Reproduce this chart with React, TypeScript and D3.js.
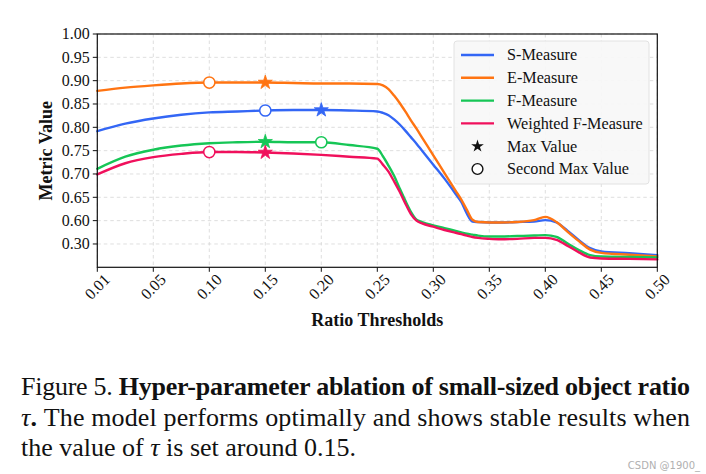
import React from "react";
import * as d3 from "d3";

// ---------- data ----------
const xTickValues = [0.01, 0.05, 0.1, 0.15, 0.2, 0.25, 0.3, 0.35, 0.4, 0.45, 0.5];
const xTickLabels = ["0.01", "0.05", "0.10", "0.15", "0.20", "0.25", "0.30", "0.35", "0.40", "0.45", "0.50"];
const yTickValues = [1.0, 0.95, 0.9, 0.85, 0.8, 0.75, 0.7, 0.65, 0.6, 0.55];
const yTickLabels = ["1.00", "0.95", "0.90", "0.85", "0.80", "0.75", "0.70", "0.65", "0.60", "0.30"];

const ratios = [0.01, 0.03, 0.05, 0.075, 0.1, 0.125, 0.15, 0.175, 0.2, 0.225, 0.25, 0.255, 0.26, 0.265, 0.27, 0.275, 0.28, 0.285, 0.29, 0.3, 0.31, 0.32, 0.325, 0.33, 0.335, 0.34, 0.35, 0.36, 0.375, 0.39, 0.4, 0.41, 0.42, 0.43, 0.44, 0.45, 0.475, 0.5];

const sMeasure = [0.792, 0.808, 0.819, 0.827, 0.832, 0.834, 0.836, 0.837, 0.837, 0.836, 0.834, 0.831, 0.826, 0.817, 0.806, 0.793, 0.779, 0.765, 0.75, 0.72, 0.69, 0.657, 0.64, 0.615, 0.598, 0.597, 0.596, 0.596, 0.597, 0.598, 0.601, 0.596, 0.578, 0.558, 0.541, 0.534, 0.53, 0.526];
const eMeasure = [0.878, 0.885, 0.89, 0.894, 0.896, 0.896, 0.896, 0.895, 0.894, 0.894, 0.893, 0.89, 0.882, 0.868, 0.852, 0.834, 0.815, 0.797, 0.778, 0.74, 0.702, 0.664, 0.645, 0.623, 0.602, 0.597, 0.596, 0.596, 0.597, 0.601, 0.608, 0.597, 0.576, 0.556, 0.538, 0.531, 0.527, 0.5235];
const fMeasure = [0.711, 0.737, 0.752, 0.761, 0.766, 0.768, 0.769, 0.768, 0.768, 0.762, 0.754, 0.738, 0.718, 0.696, 0.669, 0.643, 0.619, 0.602, 0.597, 0.59, 0.584, 0.578, 0.575, 0.572, 0.57, 0.568, 0.566, 0.566, 0.567, 0.568, 0.569, 0.565, 0.551, 0.537, 0.526, 0.523, 0.522, 0.521];
const wfMeasure = [0.699, 0.723, 0.736, 0.743, 0.747, 0.747, 0.746, 0.744, 0.741, 0.737, 0.733, 0.72, 0.705, 0.684, 0.662, 0.637, 0.614, 0.6, 0.594, 0.587, 0.58, 0.574, 0.571, 0.568, 0.565, 0.563, 0.561, 0.56, 0.561, 0.563, 0.563, 0.559, 0.546, 0.532, 0.521, 0.519, 0.518, 0.517];

const seriesNames = ["S-Measure", "E-Measure", "F-Measure", "Weighted F-Measure"];
const seriesValues = [sMeasure, eMeasure, fMeasure, wfMeasure];
const seriesColors = ["#3366f5", "#ff7412", "#16c656", "#f0105c"];
const maxAt = [0.2, 0.15, 0.15, 0.15];
const secondMaxAt = [0.15, 0.1, 0.2, 0.1];

// ---------- layout ----------
const W = 706, H = 474;
const L = 97.3, R = 657.3, T = 34, B = 267.3;
const serif = "'Liberation Serif', 'Times New Roman', serif";

export default function App() {
  const x = d3.scaleLinear()
    .domain(xTickValues)
    .range(xTickValues.map((_, i) => L + (i * (R - L)) / (xTickValues.length - 1)));
  const y = d3.scaleLinear().domain([0.5, 1.0]).range([B, T]);

  const line = d3.line<number>()
    .x((_, i) => x(ratios[i]))
    .y((d) => y(d))
    .curve(d3.curveMonotoneX);

  const star = d3.symbol().type(d3.symbolStar).size(62)();
  const starLegend = d3.symbol().type(d3.symbolStar).size(50)();

  const valueAt = (vals: number[], r: number) => vals[ratios.findIndex((v) => Math.abs(v - r) < 1e-9)];

  const legendX = 454, legendY = 41, rowH = 22.8, firstRow = 55;

  return (
    <svg width={W} height={H} style={{ position: "absolute", left: 0, top: 0, background: "#fff" }}>
      <rect x={0} y={0} width={W} height={H} fill="#fff" />
      {/* grid */}
      <g stroke="#d6d6d6" strokeWidth={0.8} strokeDasharray="3.5,3">
        {xTickValues.map((v) => (
          <line key={"gx" + v} x1={x(v)} x2={x(v)} y1={T} y2={B} />
        ))}
        {yTickValues.map((v) => (
          <line key={"gy" + v} x1={L} x2={R} y1={y(v)} y2={y(v)} />
        ))}
      </g>

      {/* lines */}
      <g fill="none" strokeWidth={2.4} strokeLinejoin="round" strokeLinecap="round">
        {seriesValues.map((vals, i) => (
          <path key={"l" + i} d={line(vals) || ""} stroke={seriesColors[i]} />
        ))}
      </g>

      {/* markers */}
      {seriesValues.map((vals, i) => (
        <g key={"m" + i}>
          <circle cx={x(secondMaxAt[i])} cy={y(valueAt(vals, secondMaxAt[i]))} r={5.6} fill="#fff" stroke={seriesColors[i]} strokeWidth={1.5} />
          <path d={star} transform={`translate(${x(maxAt[i])},${y(valueAt(vals, maxAt[i]))})`} fill={seriesColors[i]} stroke={seriesColors[i]} strokeWidth={0.8} />
        </g>
      ))}

      {/* frame */}
      <rect x={L} y={T} width={R - L} height={B - T} fill="none" stroke="#111" strokeWidth={1.2} />

      {/* y axis ticks */}
      <g fontFamily={serif} fontSize={16} fill="#111">
        {yTickValues.map((v, i) => (
          <g key={"yt" + v}>
            <line x1={L - 4.5} x2={L} y1={y(v)} y2={y(v)} stroke="#111" strokeWidth={1} />
            <text x={L - 7.5} y={y(v)} dy="0.33em" textAnchor="end">{yTickLabels[i]}</text>
          </g>
        ))}
      </g>

      {/* x axis ticks */}
      <g fontFamily={serif} fontSize={16} fill="#111">
        {xTickValues.map((v, i) => (
          <g key={"xt" + v}>
            <line x1={x(v)} x2={x(v)} y1={B} y2={B + 4.5} stroke="#111" strokeWidth={1} />
            <text transform={`translate(${x(v)},${B + 19.5}) rotate(-45)`} textAnchor="middle" dy="0.33em">{xTickLabels[i]}</text>
          </g>
        ))}
      </g>

      {/* axis titles */}
      <text x={(L + R) / 2} y={326} textAnchor="middle" fontFamily={serif} fontSize={18} fontWeight="bold" fill="#111">Ratio Thresholds</text>
      <text transform={`translate(52,${(T + B) / 2}) rotate(-90)`} textAnchor="middle" fontFamily={serif} fontSize={18} fontWeight="bold" fill="#111">Metric Value</text>

      {/* legend */}
      <rect x={legendX} y={legendY} width={195} height={143} rx={3} fill="#f7f7f7" fillOpacity={0.92} stroke="#e2e2e2" strokeWidth={1} />
      <g fontFamily={serif} fontSize={16.2} fill="#111">
        {seriesNames.map((n, i) => (
          <g key={"lg" + i}>
            <line x1={461} x2={494} y1={firstRow + i * rowH} y2={firstRow + i * rowH} stroke={seriesColors[i]} strokeWidth={2.4} />
            <text x={507} y={firstRow + i * rowH} dy="0.33em">{n}</text>
          </g>
        ))}
        <path d={starLegend} transform={`translate(477.5,${firstRow + 4 * rowH})`} fill="#111" />
        <text x={507} y={firstRow + 4 * rowH} dy="0.33em">Max Value</text>
        <circle cx={477.5} cy={firstRow + 5 * rowH} r={5.4} fill="#fff" stroke="#111" strokeWidth={1.4} />
        <text x={507} y={firstRow + 5 * rowH} dy="0.33em">Second Max Value</text>
      </g>

      {/* caption */}
      <g fontFamily={serif} fontSize={26} fill="#111">
        <text x={21} y={395} textLength={669} lengthAdjust="spacing">
          <tspan>Figure 5. </tspan>
          <tspan fontWeight="bold">Hyper-parameter ablation of small-sized object ratio</tspan>
        </text>
        <text x={21} y={425.5} textLength={669} lengthAdjust="spacing">
          <tspan fontStyle="italic">τ</tspan>
          <tspan fontWeight="bold">.</tspan>
          <tspan> The model performs optimally and shows stable results when</tspan>
        </text>
        <text x={21} y={455.5}>
          <tspan>the value of </tspan>
          <tspan fontStyle="italic">τ</tspan>
          <tspan> is set around 0.15.</tspan>
        </text>
      </g>
      <text x={700} y={469} textAnchor="end" fontFamily="'DejaVu Sans', sans-serif" fontSize={10} fill="#b0b0b0">CSDN @1900_</text>
    </svg>
  );
}
